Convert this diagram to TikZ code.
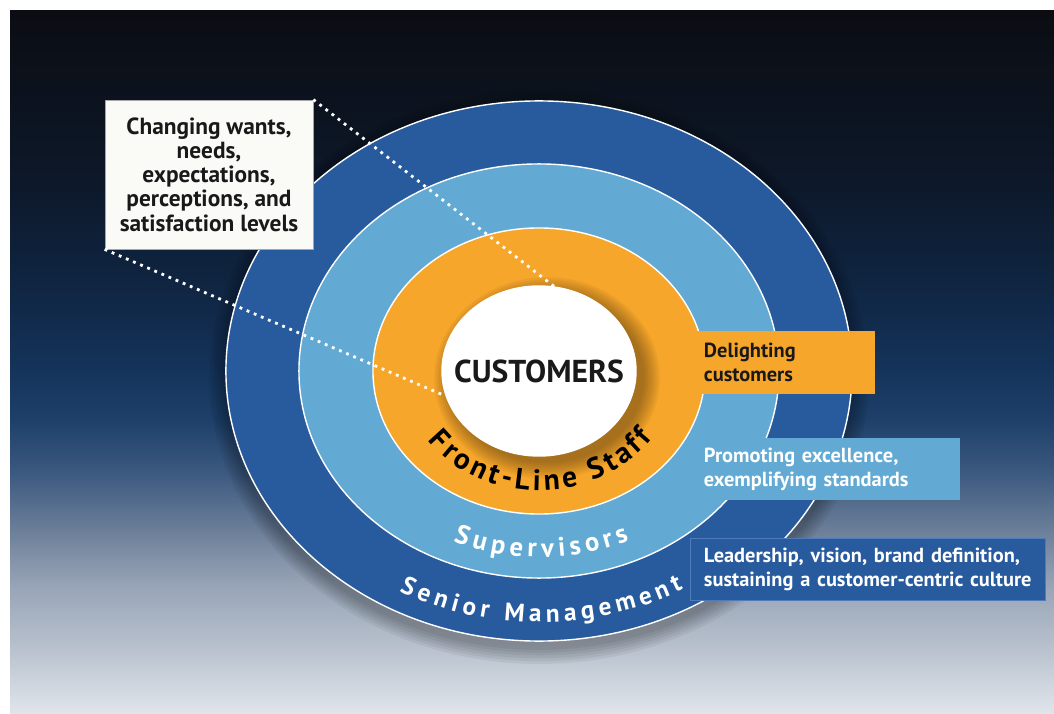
\documentclass[tikz,border=0pt]{standalone}
\usepackage{fontspec}
\setmainfont{PT Sans}
\usepackage{tikz}
\usetikzlibrary{shapes.geometric,decorations.text,positioning}

\definecolor{mgmtblue}{RGB}{40,90,158}
\definecolor{supblue}{RGB}{98,170,212}
\definecolor{staffgold}{RGB}{246,166,42}
\definecolor{boxwhite}{RGB}{250,250,246}
\definecolor{boxgrey}{RGB}{165,165,165}
\definecolor{inkblack}{RGB}{25,25,25}
\definecolor{edgeblue}{RGB}{80,122,186}
\definecolor{bga}{RGB}{224,229,235}
\definecolor{bgb}{RGB}{185,194,206}
\definecolor{bgc}{RGB}{152,165,183}
\definecolor{bgd}{RGB}{108,127,153}
\definecolor{bge}{RGB}{61,90,128}
\definecolor{bgf}{RGB}{29,63,105}
\definecolor{bgg}{RGB}{20,50,88}
\definecolor{bgh}{RGB}{15,36,64}
\definecolor{bgi}{RGB}{13,24,41}
\definecolor{bgj}{RGB}{11,13,18}
\pgfdeclareverticalshading{backdrop}{100bp}{color(0bp)=(bga); color(25bp)=(bga);
  color(29.5bp)=(bgb); color(34bp)=(bgc); color(38bp)=(bgd); color(42bp)=(bge);
  color(46bp)=(bgf); color(50bp)=(bgg); color(56bp)=(bgh); color(63bp)=(bgi);
  color(75bp)=(bgj); color(100bp)=(bgj)}

\newcommand{\boxfont}{\bfseries\fontsize{14.5}{17}\selectfont}
\newcommand{\notefont}{\bfseries\fontsize{16.6}{17.2}\selectfont}
\newcommand{\custfont}{\bfseries\fontsize{22.5}{22}\selectfont}

\tikzset{
  ring/.style={ellipse, draw=white, line width=1pt, inner sep=0pt},
  infobox/.style={rectangle, inner xsep=0.35cm, inner ysep=0pt, minimum height=1.55cm,
    align=left, font=\boxfont},
  dotline/.style={white, line width=2pt, dash pattern=on 2pt off 3.5pt}
}

\begin{document}
\begin{tikzpicture}[x=0.025cm, y=0.025cm]
  \useasboundingbox (0,0) rectangle (1054,713);
  % backdrop
  \shade[shading=backdrop] (10,0) rectangle (1054,702);
  % soft shadow under the rings
  \foreach \k in {1,...,6}
    \fill[black, opacity=.05] (539,336) ellipse [x radius=7.825cm+\k*2pt, y radius=6.75cm+\k*2pt];

  % the rings
  \node[ring, fill=mgmtblue, minimum width=15.65cm, minimum height=13.5cm] (mgmt) at (539,342) {};
  \node[ring, fill=supblue, minimum width=12cm, minimum height=10.35cm] (sup) at (mgmt.center) {};
  \node[ring, fill=staffgold, minimum width=8.3cm, minimum height=7.15cm] (staff) at (mgmt.center) {};
  \foreach \k in {0,...,7}
    \fill[black!75!brown, opacity=.06] ([shift={(8,-7)}]mgmt.center)
      ellipse [x radius=2.425cm+\k*1.6pt, y radius=2.125cm+\k*1.6pt];
  \node[ring, fill=white, minimum width=4.85cm, minimum height=4.25cm, text=inkblack,
    font=\custfont] (cust) at (mgmt.center) {\makebox[0pt]{CUSTOMERS}};

  % ring titles
  \path[decorate, decoration={text along path, text align=center, text color=black,
      text={|\bfseries\fontsize{21}{21}\selectfont\kern2.6pt|Front-Line Staff}}]
    (mgmt.center) ++(180:3.42cm and 2.98cm)
    arc[start angle=180, end angle=360, x radius=3.42cm, y radius=2.98cm];
  \path[decorate, decoration={text along path, text align=center, text color=white,
      text={|\bfseries\fontsize{19}{19}\selectfont\kern3.4pt|Supervisors}}]
    (mgmt.center) ++(180:5.4cm and 4.65cm)
    arc[start angle=180, end angle=360, x radius=5.4cm, y radius=4.65cm];
  \path[decorate, decoration={text along path, text align=center, text color=white,
      text={|\bfseries\fontsize{18}{18}\selectfont\kern3.4pt|Senior Management}}]
    (mgmt.center) ++(180:7.275cm and 6.275cm)
    arc[start angle=180, end angle=360, x radius=7.275cm, y radius=6.275cm];

  % customer box and its pointers
  \node[infobox, align=center, fill=boxwhite, draw=boxgrey, line width=.5pt, text=inkblack,
    font=\notefont, minimum width=5.2cm, minimum height=3.725cm] (needs) at (209,538.5)
    {Changing wants,\\ needs,\\ expectations,\\ perceptions, and\\ satisfaction levels};
  \draw[dotline] (needs.north east) -- (cust.80);
  \draw[dotline] (needs.south west) -- (cust.195);

  % role boxes
  \node[infobox, fill=staffgold, text=inkblack, text width=3.925cm] (delight) at (782.5,350.5)
    {Delighting\\ customers};
  \node[infobox, fill=supblue, text=white, text width=6.05cm] (promote) at (825,244)
    {Promoting excellence,\\ exemplifying standards};
  \node[infobox, fill=mgmtblue, draw=edgeblue, line width=.6pt, text=white, text width=8.175cm]
    (lead) at (867.5,144)
    {\mbox{Leadership, vision, brand definition,}\\ \mbox{sustaining a customer-centric culture}};
\end{tikzpicture}
\end{document}
